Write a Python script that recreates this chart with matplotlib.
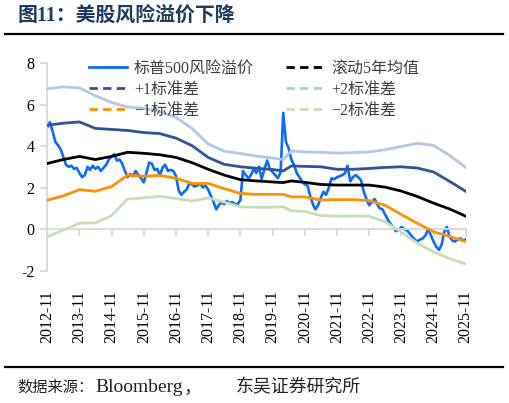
import matplotlib
matplotlib.use("Agg")
import matplotlib.pyplot as plt
from matplotlib.lines import Line2D
import pandas as pd

# ---------------- data ----------------
start_month = "2012-11"
spx_erp = [
    4.9, 5.15, 4.7, 4.2, 4.05, 3.85, 3.5, 3.1, 3.0, 3.05, 2.9, 2.95,
    2.7, 2.5, 2.6, 3.0, 2.85, 3.05, 2.9, 3.0, 2.8, 2.95, 3.1, 3.35,
    3.5, 3.6, 3.3, 3.35, 3.15, 2.8, 2.5, 2.65, 2.55, 2.8, 2.6, 2.45,
    2.25, 2.7, 3.2, 3.15, 2.85, 2.9, 2.6, 2.95, 3.1, 2.8, 2.85, 2.8,
    2.55, 1.85, 1.65, 1.8, 1.9, 2.2, 2.15, 2.05, 2.1, 2.2, 2.0, 2.1,
    1.9, 1.6, 1.3, 0.95, 1.15, 1.3, 1.2, 1.35, 1.25, 1.3, 1.2, 1.2,
    1.4, 2.8, 2.6, 2.45, 2.6, 2.9, 2.7, 3.0, 2.4, 2.9, 3.3, 2.9,
    2.75, 2.6, 2.45, 2.75, 5.6, 4.2, 3.9, 3.35, 3.1, 2.7, 2.5, 2.3,
    2.15, 2.1, 1.6, 1.2, 0.95, 1.15, 1.5, 1.8, 1.65, 2.0, 2.45, 2.4,
    2.5, 2.55, 2.6, 2.7, 3.05, 2.3, 2.5, 2.6, 2.5, 2.35, 1.8, 1.45,
    1.15, 1.3, 1.45, 1.2, 1.0, 0.95, 0.7, 0.45, 0.25, 0.1, -0.1, -0.05,
    0.1, 0.0, -0.05, -0.2, -0.35, -0.5, -0.6, -0.5, -0.45, -0.3, 0.0, -0.3,
    -0.6, -0.85, -1.0, -0.75, -0.15, 0.1, -0.35, -0.55, -0.6, -0.5, -0.45, -0.55,
    -0.5,
]

band_months = [
    "2012-11", "2013-05", "2013-11", "2014-05", "2014-11", "2015-05", "2015-11",
    "2016-05", "2016-11", "2017-05", "2017-11", "2018-05", "2018-11", "2019-05",
    "2019-11", "2020-03", "2020-06", "2020-11", "2021-05", "2021-11", "2022-05",
    "2022-11", "2023-05", "2023-11", "2024-05", "2024-11", "2025-05", "2025-11",
]
rolling_mean = [3.16, 3.35, 3.5, 3.35, 3.5, 3.7, 3.65, 3.58, 3.45, 3.2, 2.88, 2.6, 2.38, 2.32,
                2.27, 2.24, 2.32, 2.25, 2.15, 2.12, 2.12, 2.12, 2.02, 1.83, 1.57, 1.25, 0.97, 0.62]
plus_1sd = [5.0, 5.1, 5.16, 4.85, 4.8, 4.75, 4.65, 4.6, 4.38, 4.02, 3.45, 3.12, 3.0, 2.93,
            2.87, 2.8, 3.04, 3.02, 3.0, 2.88, 2.88, 2.92, 2.97, 3.0, 2.94, 2.75, 2.3, 1.82]
plus_2sd = [6.76, 6.85, 6.8, 6.42, 6.1, 5.88, 5.82, 5.65, 5.38, 4.85, 4.1, 3.75, 3.64, 3.52,
            3.42, 3.35, 3.76, 3.72, 3.7, 3.66, 3.68, 3.72, 3.82, 3.98, 4.13, 4.03, 3.55, 2.97]
minus_1sd = [1.39, 1.6, 1.9, 1.82, 2.05, 2.6, 2.55, 2.58, 2.45, 2.2, 2.2, 1.95, 1.72, 1.67,
             1.67, 1.67, 1.55, 1.55, 1.4, 1.42, 1.42, 1.37, 1.15, 0.7, 0.28, -0.13, -0.35, -0.6]
minus_2sd = [-0.37, -0.05, 0.28, 0.3, 0.65, 1.45, 1.5, 1.58, 1.47, 1.35, 1.5, 1.3, 1.07, 1.05,
             1.05, 1.07, 0.88, 0.85, 0.65, 0.62, 0.63, 0.62, 0.35, -0.15, -0.68, -1.1, -1.42, -1.68]

tick_labels = ["2012-11", "2013-11", "2014-11", "2015-11", "2016-11", "2017-11", "2018-11",
               "2019-11", "2020-11", "2021-11", "2022-11", "2023-11", "2024-11", "2025-11"]
y_ticks = [-2, 0, 2, 4, 6, 8]

series_names = ["标普500风险溢价", "+1标准差", "−1标准差", "滚动5年均值", "+2标准差", "−2标准差"]

title_text = "图11：美股风险溢价下降"
source_parts = ["数据来源：", "Bloomberg", "，", "东吴证券研究所"]

# ---------------- style ----------------
plt.rcParams["axes.unicode_minus"] = False
FAM = ["Liberation Serif", "Noto Sans CJK SC", "DejaVu Sans"]
plt.rcParams["font.family"] = FAM

C_BLUE = "#0F6BFF"
C_BLACK = "#000000"
C_P1 = "#2F5597"
C_P2 = "#B4C7E7"
C_M1 = "#FF9200"
C_M2 = "#C5E0B4"
C_AX = "#D9D9D9"

W, H = 510, 403
fig = plt.figure(figsize=(W / 100, H / 100), dpi=100)

ax = fig.add_axes([47 / W, 1 - 270.6 / H, (466 - 47) / W, (270.6 - 63) / H])

erp_dates = pd.date_range(start_month + "-01", periods=len(spx_erp), freq="MS")
band_dates = pd.to_datetime([m + "-01" for m in band_months])

ax.plot(erp_dates, spx_erp, color=C_BLUE, lw=1.9, zorder=2)
ax.plot(band_dates, rolling_mean, color=C_BLACK, lw=2.0, zorder=3)
ax.plot(band_dates, plus_1sd, color=C_P1, lw=2.0, zorder=3)
ax.plot(band_dates, plus_2sd, color=C_P2, lw=2.0, zorder=3)
ax.plot(band_dates, minus_1sd, color=C_M1, lw=2.0, zorder=3)
ax.plot(band_dates, minus_2sd, color=C_M2, lw=2.0, zorder=3)

ax.set_ylim(-2, 8)
ax.set_xlim(pd.Timestamp("2012-10-29"), pd.Timestamp("2025-11-04"))
ax.set_yticks(y_ticks)
ax.set_yticklabels([str(v) for v in y_ticks])

tick_dates = pd.to_datetime([t + "-01" for t in tick_labels])

for s in ["top", "right"]:
    ax.spines[s].set_visible(False)
ax.spines["left"].set_color(C_AX)
ax.spines["left"].set_linewidth(1.3)
ax.spines["bottom"].set_position(("data", 0))
ax.spines["bottom"].set_color(C_AX)
ax.spines["bottom"].set_linewidth(1.3)
ax.set_xticks(tick_dates)
ax.tick_params(axis="x", length=5, width=1.3, color=C_AX, labelbottom=False)
ax.tick_params(axis="y", length=5, width=1.3, color=C_AX, labelsize=11.5, pad=4)

sec = ax.secondary_xaxis("bottom")
sec.set_xticks(tick_dates)
sec.set_xticklabels(tick_labels)
sec.spines["bottom"].set_visible(False)
sec.tick_params(length=0, pad=14, labelsize=11.5, labelrotation=90)

# legend
def h(color, dashed):
    if dashed:
        return Line2D([], [], color=color, lw=2.0, dashes=(3.0, 1.9))
    return Line2D([], [], color=color, lw=2.0)

handles = [h(C_BLUE, False), h(C_P1, True), h(C_M1, True),
           h(C_BLACK, True), h(C_P2, True), h(C_M2, True)]
leg = fig.legend(handles, series_names, loc="upper left",
                 bbox_to_anchor=(89 / W, 1 - 61 / H), ncol=2, frameon=False,
                 prop={"family": FAM, "size": 11.5}, handlelength=2.4,
                 handletextpad=0.4, columnspacing=2.05, labelspacing=0.3,
                 borderpad=0, borderaxespad=0)
for t in leg.get_texts():
    t.set_color("#404040")

# title, rules, source
fig.text(18 / W, 1 - 16 / H, title_text, ha="left", va="center", fontsize=14.3,
         fontweight="bold", color="#1F3B5E", family=FAM)
fig.add_artist(Line2D([5 / W, 503 / W], [1 - 33.5 / H, 1 - 33.5 / H], color="black", lw=1.6))
fig.add_artist(Line2D([5 / W, 503 / W], [1 - 366.5 / H, 1 - 366.5 / H], color="black", lw=1.6))

src_x = [17, 95, 184, 236]
src_size = [11.0, 14.0, 12.9, 12.9]
for txt, x, fs in zip(source_parts, src_x, src_size):
    fig.text(x / W, 1 - 388 / H, txt, ha="left", va="center", fontsize=fs,
             color="#222222", family=FAM)

fig.savefig("out.png", dpi=100)
